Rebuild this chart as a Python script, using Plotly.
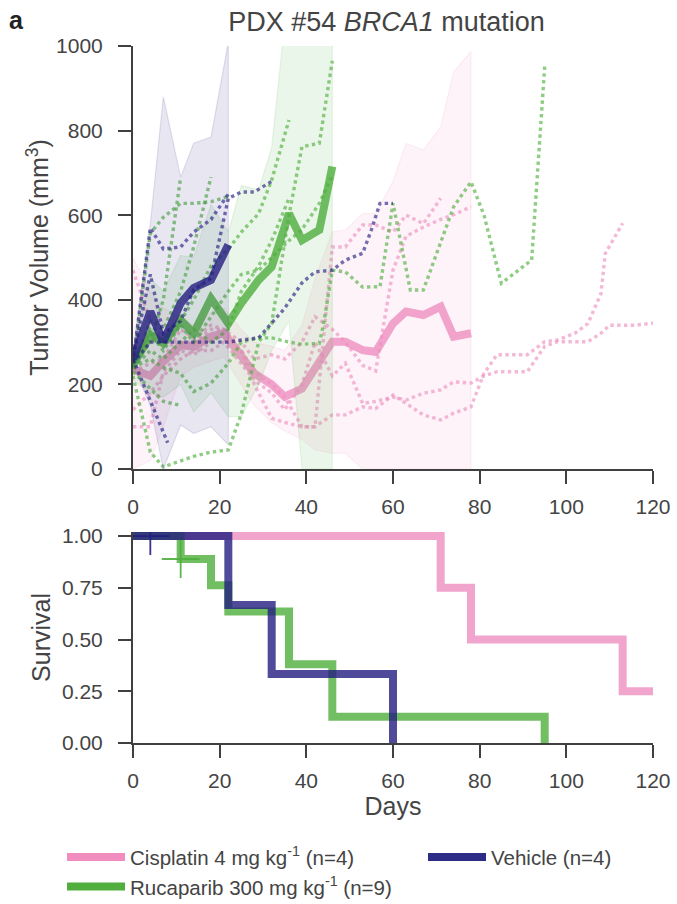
import plotly.graph_objects as go

FONT = "Liberation Sans, Arial, Helvetica, sans-serif"
TXT = "#444444"
AX = "#404040"

# ---------------- colours ----------------
PINK = (238, 143, 192)
GREEN = (77, 174, 60)
BLUE = (35, 29, 128)
LEG_PINK = "#f08cbe"
LEG_GREEN = "#50af3c"
LEG_BLUE = "#2d2d87"


def rgba(c, a):
    return "rgba(%d,%d,%d,%.3f)" % (c[0], c[1], c[2], a)


# ---------------- tumour volume: group means and bands ----------------
cis_days = [0, 4, 7, 11, 14, 18, 21, 25, 28, 32, 35, 39, 42, 46, 49, 53, 56, 60, 63, 67, 71, 74, 78]
cis_mean = [235, 220, 254, 293, 289, 313, 321, 270, 226, 200, 171, 190, 238, 301, 301, 281, 277, 344, 372, 364, 384, 313, 321]
cis_upper = [500, 420, 380, 360, 340, 370, 380, 330, 300, 290, 280, 340, 450, 561, 565, 604, 604, 680, 770, 754, 809, 939, 987]
cis_lower = [0, 20, 100, 220, 240, 255, 265, 200, 150, 110, 90, 70, 45, 37, 37, 0, 0, 0, 0, 0, 0, 0, 0]

ruc_days = [0, 4, 7, 11, 14, 18, 22, 25, 29, 32, 36, 39, 43, 46]
ruc_mean = [246, 317, 297, 352, 321, 403, 344, 392, 447, 478, 604, 541, 565, 715]
ruc_upper = [280, 450, 420, 505, 500, 625, 560, 670, 660, 760, 1150, 1300, 1300, 1300]
ruc_lower = [210, 180, 170, 200, 135, 180, 124, 124, 200, 280, 350, 0, 0, 0]

veh_days = [0, 4, 7, 11, 14, 18, 22]
veh_mean = [260, 372, 301, 392, 428, 447, 530]
veh_upper = [275, 580, 880, 690, 770, 785, 1010]
veh_lower = [245, 150, 0, 104, 84, 100, 57]

# ---------------- tumour volume: individual mice ----------------
cis_m1_days = cis_days[:21]
cis_m1 = [470, 350, 300, 300, 300, 330, 330, 280, 200, 120, 110, 100, 100, 525, 525, 577, 577, 560, 600, 580, 640]
cis_m2_days = cis_days[:23]
cis_m2 = [230, 250, 260, 330, 310, 340, 330, 300, 260, 270, 260, 300, 360, 330, 300, 245, 232, 470, 550, 572, 590, 601, 620]
cis_m3_days = cis_days + [81, 84, 88, 91, 95, 98, 102, 105, 108, 109, 113]
cis_m3 = [100, 100, 230, 280, 270, 300, 320, 280, 230, 200, 170, 100, 100, 128, 128, 147, 143, 175, 155, 128, 116, 132, 147,
          226, 270, 270, 270, 301, 305, 321, 344, 415, 510, 581, 636]
cis_m4_days = cis_days + [81, 84, 88, 91, 95, 98, 102, 105, 108, 110, 116, 120]
cis_m4 = [140, 180, 220, 260, 280, 280, 300, 250, 210, 180, 140, 200, 300, 220, 250, 155, 160, 170, 163, 179, 187, 206, 203,
          220, 230, 230, 230, 290, 301, 301, 301, 321, 340, 340, 345]

ruc_m1 = [245, 300, 400, 690]
ruc_m2 = [230, 190, 160, 150]
ruc_m3 = [240, 350, 330, 420, 525, 690]
ruc_m4 = [250, 557, 595, 628, 628, 632, 644]
ruc_m5 = [235, 330, 300, 350, 400, 480, 520, 560, 604, 683, 825]
ruc_m6 = [240, 280, 260, 300, 330, 300, 330, 420, 480, 540, 640]
ruc_m7 = [220, 40, 5, 20, 30, 40, 45, 130, 300, 344, 600, 762, 770, 965]
ruc_m8 = [245, 320, 280, 340, 300, 360, 420, 460, 470, 500, 540, 566, 628, 695]
ruc_m9_days = [0, 4, 7, 11, 14, 18, 22, 25, 29, 32, 36, 39, 43, 44, 46, 49, 53, 57, 60, 64, 67, 74, 78, 81, 85, 88, 92, 95]
ruc_m9 = [240, 260, 240, 226, 183, 203, 250, 300, 310, 310, 300, 295, 297, 344, 470, 466, 430, 431, 628, 423, 423, 620,
          679, 600, 439, 463, 494, 951]

veh_m1 = [255, 570, 520, 525, 560, 590, 650]
veh_m2_days = [0, 4, 7, 11, 14, 18, 22, 25, 28, 32]
veh_m2 = [265, 460, 320, 350, 424, 451, 640, 655, 655, 680]
veh_m3_days = [0, 4, 7, 11, 14, 18, 22, 25, 29, 32, 35, 39, 42, 46, 49, 53, 55, 57, 60]
veh_m3 = [250, 300, 300, 300, 300, 300, 300, 305, 310, 345, 380, 440, 466, 470, 494, 510, 565, 628, 628]
veh_m4_days = [0, 4, 8]
veh_m4 = [260, 160, 62]

# ---------------- survival ----------------
cis_surv_t = [0, 71, 78, 113, 120]
cis_surv = [1.0, 0.75, 0.5, 0.25, 0.25]
ruc_surv_t = [0, 11, 18, 22, 36, 46, 95]
ruc_surv = [1.0, 0.889, 0.762, 0.635, 0.381, 0.127, 0.0]
veh_surv_t = [0, 22, 32, 60]
veh_surv = [1.0, 0.667, 0.333, 0.0]
ruc_censor_t, ruc_censor_s = [11], [0.889]
veh_censor_t, veh_censor_s = [4], [1.0]

x_ticks = [0, 20, 40, 60, 80, 100, 120]
vol_ticks = [0, 200, 400, 600, 800, 1000]
surv_ticks = [0, 0.25, 0.5, 0.75, 1.0]
surv_ticktext = ["0.00", "0.25", "0.50", "0.75", "1.00"]

legend_names = ["Cisplatin 4 mg kg<sup>-1</sup> (n=4)", "Rucaparib 300 mg kg<sup>-1</sup> (n=9)", "Vehicle (n=4)"]

fig = go.Figure()


def add_band(days, upper, lower, col):
    fig.add_trace(go.Scatter(
        x=list(days) + list(days)[::-1], y=list(upper) + list(lower)[::-1],
        mode="lines", fill="toself", fillcolor=rgba(col, 0.11),
        line=dict(color=rgba(col, 0.12), width=1.2), hoverinfo="skip",
        showlegend=False, xaxis="x", yaxis="y"))


def add_mouse(days, vals, col):
    fig.add_trace(go.Scatter(
        x=days, y=vals, mode="lines",
        line=dict(color=rgba(col, 0.63), width=3.4, dash="dot"),
        showlegend=False, xaxis="x", yaxis="y"))


def add_mean(days, vals, col):
    fig.add_trace(go.Scatter(
        x=days, y=vals, mode="lines",
        line=dict(color=rgba(col, 0.8), width=8),
        showlegend=False, xaxis="x", yaxis="y"))


# Cisplatin
add_band(cis_days, cis_upper, cis_lower, PINK)
add_mouse(cis_m1_days, cis_m1, PINK)
add_mouse(cis_m2_days, cis_m2, PINK)
add_mouse(cis_m3_days, cis_m3, PINK)
add_mouse(cis_m4_days, cis_m4, PINK)
add_mean(cis_days, cis_mean, PINK)

# Rucaparib
add_band(ruc_days, ruc_upper, ruc_lower, GREEN)
for vals in [ruc_m1, ruc_m2, ruc_m3, ruc_m4, ruc_m5, ruc_m6, ruc_m7, ruc_m8]:
    add_mouse(ruc_days[:len(vals)], vals, GREEN)
add_mouse(ruc_m9_days, ruc_m9, GREEN)
add_mean(ruc_days, ruc_mean, GREEN)

# Vehicle
add_band(veh_days, veh_upper, veh_lower, BLUE)
add_mouse(veh_days, veh_m1, BLUE)
add_mouse(veh_m2_days, veh_m2, BLUE)
add_mouse(veh_m3_days, veh_m3, BLUE)
add_mouse(veh_m4_days, veh_m4, BLUE)
add_mean(veh_days, veh_mean, BLUE)

# survival
for t, s, col in [(cis_surv_t, cis_surv, PINK), (ruc_surv_t, ruc_surv, GREEN), (veh_surv_t, veh_surv, BLUE)]:
    fig.add_trace(go.Scatter(x=t, y=s, mode="lines", line_shape="hv",
                             line=dict(color=rgba(col, 0.8), width=8),
                             showlegend=False, xaxis="x2", yaxis="y2"))
fig.add_trace(go.Scatter(x=ruc_censor_t, y=ruc_censor_s, mode="markers",
                         marker=dict(symbol="cross-thin", size=27, line=dict(color=rgba(GREEN, 0.9), width=1.8)),
                         showlegend=False, xaxis="x2", yaxis="y2"))
fig.add_trace(go.Scatter(x=veh_censor_t, y=veh_censor_s, mode="markers",
                         marker=dict(symbol="cross-thin", size=27, line=dict(color=rgba(BLUE, 0.9), width=1.8)),
                         showlegend=False, xaxis="x2", yaxis="y2"))

# legend entries
for name, col, lg, grp in [(legend_names[0], LEG_PINK, "legend", "a"),
                           (legend_names[1], LEG_GREEN, "legend", "b"),
                           (legend_names[2], LEG_BLUE, "legend2", "c")]:
    fig.add_trace(go.Scatter(x=[None], y=[None], mode="lines", name=name, legendgroup=grp,
                             line=dict(color=col, width=8), legend=lg, xaxis="x2", yaxis="y2"))

axis_common = dict(showline=True, linecolor=AX, linewidth=2, ticks="outside", ticklen=13, tickwidth=2,
                   tickcolor=AX, showgrid=False, zeroline=False, automargin=False,
                   tickfont=dict(size=21, color=TXT, family=FONT))
X_STANDOFF = 5
Y_STANDOFF = 11

fig.update_layout(
    width=677, height=904,
    margin=dict(l=133, r=24, t=46, b=161, autoexpand=False),
    paper_bgcolor="white", plot_bgcolor="white",
    font=dict(family=FONT, color=TXT),
    title=dict(text="PDX #54 <i>BRCA1</i> mutation", x=0.4875, xref="paper", xanchor="center",
               y=1 - 22 / 904, yref="container", yanchor="middle",
               font=dict(size=27, color=TXT, family=FONT)),
    xaxis=dict(range=[0, 120], tickvals=x_ticks, domain=[0, 1], anchor="y", ticklabelstandoff=X_STANDOFF,
               **axis_common),
    yaxis=dict(range=[0, 1000], tickvals=vol_ticks, domain=[274 / 697, 1], anchor="x", ticklabelstandoff=Y_STANDOFF,
               title=dict(text="Tumor Volume (mm<sup>3</sup>)", font=dict(size=25, color=TXT, family=FONT), standoff=0),
               **axis_common),
    xaxis2=dict(range=[0, 120], tickvals=x_ticks, domain=[0, 1], anchor="y2", ticklabelstandoff=X_STANDOFF,
                title=dict(text="Days", font=dict(size=25, color=TXT, family=FONT), standoff=1),
                **axis_common),
    yaxis2=dict(range=[0, 1.02], tickvals=surv_ticks, ticktext=surv_ticktext, domain=[0, 211.1 / 697], anchor="x2",
                ticklabelstandoff=Y_STANDOFF,
                title=dict(text="Survival", font=dict(size=25, color=TXT, family=FONT), standoff=4),
                **axis_common),
    legend=dict(x=-0.1365, y=-0.135, xanchor="left", yanchor="top", orientation="v", itemwidth=58,
                font=dict(size=20.5, color=TXT, family=FONT), tracegroupgap=0, bgcolor="rgba(0,0,0,0)"),
    legend2=dict(x=0.5577, y=-0.135, xanchor="left", yanchor="top", orientation="v", itemwidth=58,
                 font=dict(size=20.5, color=TXT, family=FONT), bgcolor="rgba(0,0,0,0)"),
    annotations=[dict(text="<b>a</b>", x=-0.243, y=1.037, xref="paper", yref="paper", xanchor="left",
                      yanchor="middle", showarrow=False, font=dict(size=25, color="#222222", family=FONT))],
)

fig.write_html("out.html")
